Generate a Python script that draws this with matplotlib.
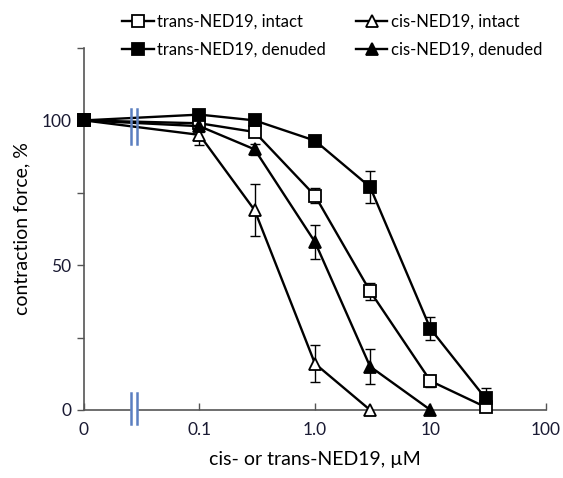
import numpy as np
import matplotlib
matplotlib.use("Agg")
import matplotlib.pyplot as plt
from matplotlib.ticker import FixedLocator, NullLocator

plt.rcParams["font.family"] = ["Lato", "DejaVu Sans"]

# --- data (0 is drawn at the 0.01 position, behind the axis break) ---
conc = [0.01, 0.1, 0.3, 1, 3, 10, 30]
conc_labels = ["0", "0.1", "1.0", "10", "100"]
conc_ticks = [0.01, 0.1, 1, 10, 100]

trans_intact = [100, 99, 96, 74, 41, 10, 1]
trans_intact_err = [0, 1.5, 1.5, 2.5, 3, 2, 0.5]
trans_denuded = [100, 102, 100, 93, 77, 28, 4]
trans_denuded_err = [0, 1, 1, 1, 5.5, 4, 3.5]
cis_intact = [100, 95, 69, 16, 0]
cis_intact_err = [0, 3.5, 9, 6.5, 0]
cis_denuded = [100, 98, 90, 58, 15, 0]
cis_denuded_err = [0, 2, 2, 6, 6, 0]

series = [
    ("trans-NED19, intact", trans_intact, trans_intact_err, "s", "white"),
    ("trans-NED19, denuded", trans_denuded, trans_denuded_err, "s", "black"),
    ("cis-NED19, intact", cis_intact, cis_intact_err, "^", "white"),
    ("cis-NED19, denuded", cis_denuded, cis_denuded_err, "^", "black"),
]

fig = plt.figure(figsize=(5.63, 4.78), dpi=100)
ax = fig.add_axes([0.1492, 0.1423, 0.8206, 0.7573])

for label, vals, err, mk, fc in series:
    x = np.array(conc[:len(vals)])
    y = np.array(vals, dtype=float)
    e = np.array(err, dtype=float)
    m = e > 0
    ax.errorbar(x[m], y[m], yerr=e[m], fmt="none", ecolor="black",
                elinewidth=1, capsize=3.5, capthick=1, zorder=2, clip_on=False)
    ax.plot(x, y, color="black", lw=1.7, marker=mk, ms=8 if mk == "s" else 9,
            mfc=fc, mec="black", mew=1.3, label=label, zorder=3, clip_on=False)

ax.set_xscale("log")
ax.set_xlim(0.01, 100)
ax.set_ylim(0, 125)
ax.xaxis.set_major_locator(FixedLocator(conc_ticks))
ax.xaxis.set_minor_locator(NullLocator())
ax.set_xticklabels(conc_labels)
ax.set_yticks([0, 50, 100])
ax.yaxis.set_minor_locator(FixedLocator([25, 75, 125]))

for s in ["top", "right"]:
    ax.spines[s].set_visible(False)
for s in ["left", "bottom"]:
    ax.spines[s].set_color("#555555")
    ax.spines[s].set_linewidth(1.2)

ax.tick_params(axis="x", direction="in", length=5, width=1, color="#555555",
               labelsize=12.5, labelcolor="#1a1a33", pad=9)
ax.tick_params(axis="y", which="both", direction="out", length=5, width=1,
               color="#555555", labelsize=12.5, labelcolor="#1a1a33", pad=4)

ax.set_xlabel("cis- or trans-NED19, \u00b5M", fontsize=14, labelpad=9)
ax.set_ylabel("contraction force, %", fontsize=14, labelpad=8)

# axis break marks
brk = "#5b7fc0"
bx = [0.0255, 0.0288]
ax.fill_between(bx, -4, 4, color="white", zorder=4, clip_on=False)
for xb in bx:
    ax.plot([xb, xb], [-5, 6], color=brk, lw=1.8, zorder=5, clip_on=False)
    ax.plot([xb, xb], [92, 104], color=brk, lw=1.8, zorder=5, clip_on=False)

fig.legend(ncol=2, loc="upper left", bbox_to_anchor=(122 / 563, 1 - 14 / 478),
           frameon=False, fontsize=12, handlelength=1.9, handletextpad=0.2,
           columnspacing=1.8, labelspacing=0.7, borderaxespad=0, borderpad=0)

fig.savefig("out.png", dpi=100)
